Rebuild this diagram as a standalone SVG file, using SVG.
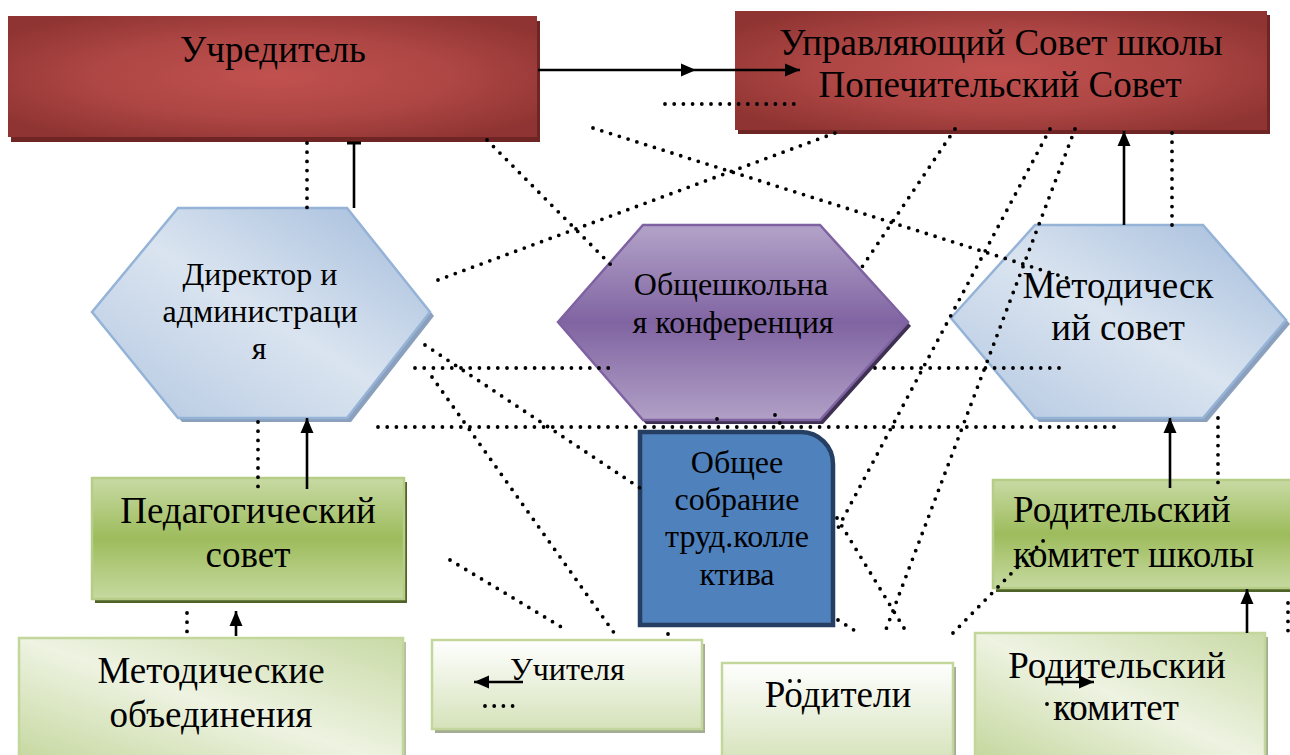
<svg xmlns="http://www.w3.org/2000/svg" width="1290" height="755" viewBox="0 0 1290 755">
<style>
  .t { font-family: "Liberation Serif", "DejaVu Serif", serif; fill: #000; }
  .c { text-anchor: middle; }
  .dot { fill: none; stroke: #000; stroke-width: 3.8; stroke-linecap: round; stroke-dasharray: 0 9.2; }
  .sol { fill: none; stroke: #000; stroke-width: 2.6; marker-end: url(#ah); }
</style>
<defs>
  <radialGradient id="gRed" cx="0.5" cy="0.5" r="0.62">
    <stop offset="0" stop-color="#c1514f"/>
    <stop offset="0.55" stop-color="#ad4644"/>
    <stop offset="1" stop-color="#8f3432"/>
  </radialGradient>
  <linearGradient id="gBlueHex" x1="1" y1="0" x2="0" y2="1">
    <stop offset="0" stop-color="#a2bbdb"/>
    <stop offset="0.5" stop-color="#dae4f0"/>
    <stop offset="1" stop-color="#b3c7e1"/>
  </linearGradient>
  <linearGradient id="gPurple" x1="0" y1="0" x2="0" y2="1">
    <stop offset="0" stop-color="#b3a3c8"/>
    <stop offset="0.5" stop-color="#8064a2"/>
    <stop offset="1" stop-color="#b1a0c6"/>
  </linearGradient>
  <linearGradient id="gGreen" x1="0" y1="0" x2="0" y2="1">
    <stop offset="0" stop-color="#c8daa4"/>
    <stop offset="0.5" stop-color="#9dbc5c"/>
    <stop offset="1" stop-color="#c6d9a0"/>
  </linearGradient>
  <linearGradient id="gLightV" x1="0" y1="0" x2="0" y2="1">
    <stop offset="0" stop-color="#ffffff"/>
    <stop offset="1" stop-color="#d5e2ba"/>
  </linearGradient>
  <linearGradient id="gLightD" x1="0" y1="1" x2="1" y2="0">
    <stop offset="0" stop-color="#c3d69b"/>
    <stop offset="0.5" stop-color="#eef3e2"/>
    <stop offset="1" stop-color="#c9daa6"/>
  </linearGradient>
  <marker id="ah" markerUnits="userSpaceOnUse" markerWidth="15" markerHeight="15" viewBox="0 0 15 15" refX="15" refY="7.5" orient="auto">
    <path d="M0,1 L15,7.5 L0,14 Z" fill="#000"/>
  </marker>
</defs>
<rect width="1290" height="755" fill="#fff"/>

<g id="uchreditel">
  <rect x="11" y="21" width="529" height="121" fill="#6e2523"/>
  <rect x="8" y="16" width="529" height="121" fill="url(#gRed)"/>
  <text class="t c" x="273" y="62" font-size="37">Учредитель</text>
</g>

<g id="upravl-sovet">
  <rect x="738" y="15" width="532" height="119" fill="#6e2523"/>
  <rect x="735" y="11" width="532" height="119" fill="url(#gRed)"/>
  <text class="t c" x="1001" y="55" font-size="37">Управляющий Совет школы</text>
  <text class="t c" x="1000" y="97" font-size="37">Попечительский Совет</text>
</g>

<g id="direktor">
  <polygon points="96,316 182,212 351,212 434,316 351,422 182,422" fill="#8ba0bc"/>
  <polygon points="92,312 178,208 347,208 430,312 347,418 178,418" fill="url(#gBlueHex)" stroke="#95b3d7" stroke-width="2.5"/>
  <text class="t c" x="260" y="285" font-size="32">Директор и</text>
  <text class="t c" x="260" y="322" font-size="32">администраци</text>
  <text class="t c" x="259" y="359" font-size="32">я</text>
</g>

<g id="konferenciya">
  <polygon points="561,326 646,229 823,229 911,326 823,424 646,424" fill="#3f3151"/>
  <polygon points="558,322 643,225 820,225 908,322 820,420 643,420" fill="url(#gPurple)" stroke="#7e62a1" stroke-width="2.5"/>
  <text class="t c" x="731" y="295" font-size="32">Общешкольна</text>
  <text class="t c" x="733" y="333" font-size="32">я конференция</text>
</g>

<g id="metod-sovet">
  <polygon points="954,322 1039,229 1207,229 1290,324 1207,422 1039,422" fill="#8ba0bc"/>
  <polygon points="951,318 1035,225 1203,225 1286,320 1203,418 1035,418" fill="url(#gBlueHex)" stroke="#95b3d7" stroke-width="2.5"/>
  <text class="t c" x="1118" y="298" font-size="37">Методическ</text>
  <text class="t c" x="1118" y="340" font-size="37">ий совет</text>
</g>

<g id="obshchee-sobranie">
  <path d="M640,432 H801 A32,32 0 0 1 833,464 V625 H640 Z" fill="#4f81bd" stroke="#243f62" stroke-width="4.5"/>
  <text class="t c" x="737" y="473" font-size="32">Общее</text>
  <text class="t c" x="737" y="510" font-size="32">собрание</text>
  <text class="t c" x="737" y="547" font-size="32">труд.колле</text>
  <text class="t c" x="737" y="585" font-size="32">ктива</text>
</g>

<g id="ped-sovet">
  <rect x="95" y="482" width="312" height="121" fill="#4f6228"/>
  <rect x="92" y="478" width="312" height="121" fill="url(#gGreen)" stroke="#b5cd86" stroke-width="2.5"/>
  <text class="t c" x="248" y="523" font-size="37">Педагогический</text>
  <text class="t c" x="248" y="567" font-size="37">совет</text>
</g>

<g id="rod-komitet-shkoly">
  <rect x="996" y="484" width="300" height="108" fill="#4f6228"/>
  <rect x="993" y="480" width="300" height="108" fill="url(#gGreen)" stroke="#b5cd86" stroke-width="2.5"/>
  <text class="t" x="1013" y="522" font-size="37">Родительский</text>
  <text class="t" x="1013" y="567" font-size="37">комитет школы</text>
</g>

<g id="metod-obedineniya">
  <rect x="22" y="642" width="384" height="130" fill="#b4bea4"/>
  <rect x="19" y="638" width="384" height="130" fill="url(#gLightD)" stroke="#c3d69b" stroke-width="2.5"/>
  <text class="t c" x="211" y="683" font-size="37">Методические</text>
  <text class="t c" x="211" y="727" font-size="37">объединения</text>
</g>

<g id="uchitelya">
  <rect x="435" y="644" width="270" height="89" fill="#a3ad92"/>
  <rect x="432" y="640" width="270" height="89" fill="url(#gLightV)" stroke="#c3d69b" stroke-width="2.5"/>
  <text class="t" x="510" y="680" font-size="32">Учителя</text>
</g>

<g id="roditeli">
  <rect x="725" y="667" width="231" height="100" fill="#a3ad92"/>
  <rect x="722" y="663" width="231" height="100" fill="url(#gLightV)" stroke="#c3d69b" stroke-width="2.5"/>
  <text class="t c" x="838" y="707" font-size="37">Родители</text>
</g>

<g id="rod-komitet">
  <rect x="978" y="637" width="290" height="130" fill="#a3ad92"/>
  <rect x="975" y="633" width="290" height="130" fill="url(#gLightD)" stroke="#c3d69b" stroke-width="2.5"/>
  <text class="t c" x="1117" y="678" font-size="37">Родительский</text>
  <text class="t c" x="1116" y="720" font-size="37">комитет</text>
</g>

<g id="connectors">
  <path class="sol" d="M538,70 H696"/>
  <path class="sol" d="M696,70 H800"/>
  <path d="M354,208 V143" stroke="#000" stroke-width="2.6" fill="none"/>
  <path d="M347,143 H361" stroke="#000" stroke-width="3" fill="none"/>
  <path class="sol" d="M307,489 V418"/>
  <path class="sol" d="M236,636 V611"/>
  <path class="sol" d="M1124,225 V131"/>
  <path class="sol" d="M1170,488 V418"/>
  <path class="sol" d="M1247,633 V589"/>
  <path class="sol" d="M523,682 H474"/>
  <path class="sol" d="M1046,682 H1094"/>

  <path class="dot" d="M665,104 H800"/>
  <path class="dot" d="M307,143 V209"/>
  <path class="dot" d="M487,140 L613,267"/>
  <path class="dot" d="M438,280 L835,133"/>
  <path class="dot" d="M593,128 L1067,278"/>
  <path class="dot" d="M955,129 L860,270"/>
  <path class="dot" d="M1050,129 L838,528"/>
  <path class="dot" d="M1075,129 L885,632"/>
  <path class="dot" d="M1172,133 V225"/>
  <path class="dot" d="M415,368 H612"/>
  <path class="dot" d="M875,368 H1064"/>
  <path class="dot" d="M378,427 H1118"/>
  <path class="dot" d="M425,345 L640,488"/>
  <path class="dot" d="M838,620 L857,632"/>
  <path class="dot" d="M432,377 L617,637"/>
  <path class="dot" d="M450,560 L563,628"/>
  <path class="dot" d="M775,415 L784,430"/>
  <path class="dot" d="M837,518 L907,633"/>
  <path class="dot" d="M717,419 L716,427"/>
  <path class="dot" d="M668,634 L669,633"/>
  <path class="dot" d="M953,633 L1044,540"/>
  <path class="dot" d="M258,422 V490"/>
  <path class="dot" d="M187,613 V635"/>
  <path class="dot" d="M1218,418 V490"/>
  <path class="dot" d="M1288,603 V635"/>
  <path class="dot" d="M485,706 H516"/>
  <path class="dot" d="M790,681 H808"/>
  <path class="dot" d="M1047,704 H1074" style="stroke-dasharray:0 13"/>
</g>
</svg>
